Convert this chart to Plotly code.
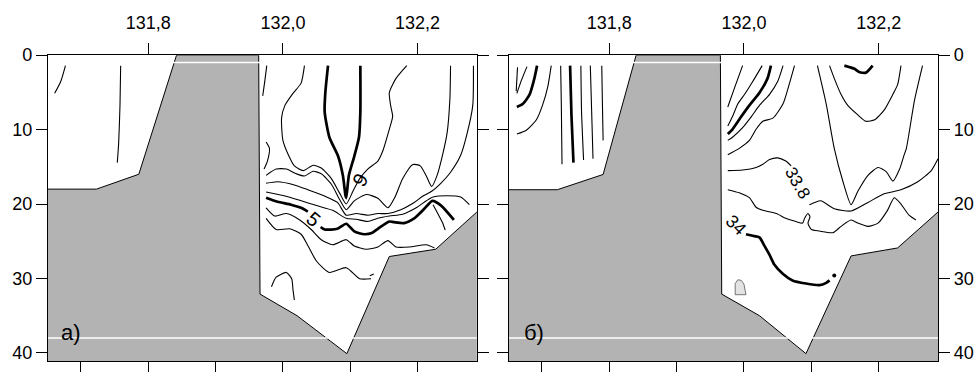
import plotly.graph_objects as go

# ---------------- axes / ticks ----------------
LON_RANGE = [131.651, 132.288]
DEPTH_RANGE = [41.15, 0.0]
bottom_ticks = [131.7, 131.8, 131.9, 132.0, 132.1, 132.2]
top_ticks = [131.8, 132.0, 132.2]
top_labels = ["131,8", "132,0", "132,2"]
depth_ticks = [0, 10, 20, 30, 40]
depth_labels = ["0", "10", "20", "30", "40"]
artifact_depths = [1.0, 38.0]

# ---------------- bathymetry (lon, depth) ----------------
bathy_lon_a = [131.640, 131.723, 131.786, 131.842, 131.964, 131.966, 132.021, 132.095, 132.158, 132.227, 132.300]
bathy_dep_a = [18.0, 18.0, 16.0, 0.0, 0.0, 32.1, 35.0, 40.1, 27.05, 26.07, 20.1]
bathy_lon_b = [131.640, 131.723, 131.791, 131.840, 131.965, 131.967, 132.023, 132.092, 132.159, 132.228, 132.300]
bathy_dep_b = [18.08, 18.08, 16.03, 0.0, 0.0, 32.1, 35.0, 40.1, 26.97, 25.9, 20.1]

# ---------------- panel a) contours ----------------
a1_lon = [131.677, 131.670, 131.661]
a1_dep = [1.41, 3.55, 5.13]
a2_lon = [131.759, 131.758, 131.756, 131.754]
a2_dep = [1.41, 6.75, 11.88, 14.44]
a3_lon = [131.976, 131.973, 131.970]
a3_dep = [1.41, 3.55, 5.47]
a4_lon = [131.975, 131.980, 131.977, 131.972]
a4_dep = [11.67, 12.52, 14.23, 15.3]
a9_lon = [132.067, 132.063, 132.062, 132.069, 132.082, 132.089, 132.093, 132.094,
          132.098, 132.106, 132.113, 132.115, 132.115]
a9_dep = [1.41, 5.04, 7.61, 11.03, 13.59, 16.15, 18.9, 19.2, 16.15, 13.59, 11.03, 7.61, 1.41]
aw_lon = [132.032, 132.027, 132.015, 132.003, 131.998, 132.000, 132.008, 132.017, 132.030, 132.045,
          132.057, 132.072, 132.084, 132.094, 132.104, 132.114, 132.126, 132.141, 132.148, 132.158,
          132.163, 132.160, 132.158, 132.168, 132.184]
aw_dep = [1.41, 3.76, 5.13, 6.75, 8.46, 11.45, 13.38, 14.87, 15.51, 14.79,
          15.17, 16.58, 18.5, 20.0, 18.29, 16.58, 15.3, 14.23, 12.95, 9.96,
          8.25, 6.75, 5.04, 3.12, 1.41]
ar2_lon = [131.975, 131.990, 132.005, 132.020, 132.032, 132.045, 132.057, 132.072, 132.084, 132.094,
           132.106, 132.124, 132.141, 132.156, 132.166, 132.178, 132.193, 132.204, 132.213, 132.221,
           132.229, 132.237, 132.244, 132.248, 132.249]
ar2_dep = [16.15, 15.3, 15.3, 15.94, 16.24, 15.6, 15.94, 17.35, 19.36, 20.77,
           19.57, 18.72, 19.23, 20.51, 19.15, 16.58, 14.7, 14.87, 16.24, 17.65,
           16.15, 13.46, 10.38, 5.9, 1.41]
ar3_lon = [131.975, 131.992, 132.017, 132.037, 132.062, 132.081, 132.094, 132.109, 132.126, 132.141,
           132.156, 132.175, 132.195, 132.208, 132.221, 132.233, 132.249, 132.264, 132.274, 132.282, 132.283]
ar3_dep = [17.22, 17.01, 17.44, 18.08, 18.93, 19.79, 21.5, 21.28, 21.5, 21.28,
           21.28, 20.77, 19.79, 18.93, 18.29, 17.35, 15.73, 13.46, 10.38, 6.75, 1.41]
ar4_lon = [131.975, 132.000, 132.025, 132.050, 132.074, 132.094, 132.109, 132.126, 132.141, 132.158,
           132.178, 132.198, 132.213, 132.223, 132.244, 132.264, 132.277]
ar4_dep = [18.38, 18.85, 19.49, 20.21, 20.85, 21.92, 22.05, 22.35, 21.92, 21.62,
           21.37, 20.51, 19.57, 19.06, 18.89, 19.06, 20.09]
ar4c_lon = [132.223, 132.230, 132.237, 132.241]
ar4c_dep = [20.09, 21.28, 22.48, 23.5]
a5l_lon = [131.975, 131.992, 132.012, 132.027, 132.037]
a5l_dep = [19.15, 19.7, 20.09, 20.51, 21.03]
a5r_lon = [132.056, 132.062, 132.081, 132.094, 132.106, 132.121, 132.133, 132.141, 132.158, 132.165,
           132.180, 132.195, 132.210, 132.222, 132.235, 132.254]
a5r_dep = [23.08, 23.42, 23.33, 22.65, 23.68, 24.06, 23.85, 23.33, 22.35, 22.44,
           22.56, 21.92, 20.64, 19.57, 20.21, 22.14]
ar6_lon = [131.975, 131.988, 132.005, 132.025, 132.042, 132.057, 132.074, 132.094, 132.106, 132.124,
           132.141, 132.156, 132.168, 132.188, 132.213, 132.225]
ar6_dep = [20.51, 21.62, 21.28, 22.14, 23.42, 24.79, 25.47, 24.79, 25.64, 26.07,
           25.77, 24.91, 25.77, 25.77, 25.47, 25.9]
ar7_lon = [131.975, 131.990, 132.010, 132.027, 132.037, 132.050, 132.069, 132.094, 132.114, 132.131]
ar7_dep = [21.92, 23.42, 23.33, 24.06, 25.56, 27.69, 29.19, 28.55, 30.04, 30.04]
aarc_lon = [131.983, 131.990, 132.005, 132.013, 132.015, 132.017]
aarc_dep = [31.11, 29.83, 29.19, 30.04, 31.54, 32.91]
atick_lon = [132.129, 132.135]
atick_dep = [29.62, 29.4]

# ---------------- panel б) contours ----------------
b1_lon = [131.664, 131.662]
b1_dep = [1.62, 4.83]
b2_lon = [131.678, 131.670, 131.663]
b2_dep = [1.54, 3.33, 5.13]
b3_lon = [131.693, 131.689, 131.682, 131.672, 131.663]
b3_dep = [1.41, 3.12, 5.26, 6.54, 6.97]
b4_lon = [131.714, 131.709, 131.701, 131.692, 131.677, 131.663]
b4_dep = [1.41, 4.19, 6.75, 8.68, 10.09, 10.6]
b5_lon = [131.728, 131.729, 131.730]
b5_dep = [1.41, 6.75, 14.66]
b6_lon = [131.742, 131.744, 131.747]
b6_dep = [1.41, 8.03, 14.44]
b7_lon = [131.758, 131.759, 131.762]
b7_dep = [1.41, 7.61, 14.1]
b8_lon = [131.772, 131.774, 131.776]
b8_dep = [1.41, 7.61, 13.93]
b9_lon = [131.789, 131.790, 131.791]
b9_dep = [1.41, 6.75, 11.45]
c1_lon = [131.998, 131.986, 131.976]
c1_dep = [1.41, 4.4, 6.97]
c2_lon = [132.027, 132.013, 132.001, 131.991, 131.983, 131.976]
c2_dep = [1.41, 3.55, 5.26, 6.54, 8.25, 9.53]
c3_lon = [132.040, 132.035, 132.023, 132.008, 131.996, 131.983, 131.976]
c3_dep = [1.41, 3.12, 5.04, 6.75, 8.25, 9.96, 10.6]
c4_lon = [132.058, 132.050, 132.038, 132.023, 132.011, 131.998, 131.983, 131.976]
c4_dep = [1.41, 3.55, 5.26, 6.75, 8.25, 9.74, 11.03, 11.45]
c5_lon = [132.075, 132.067, 132.058, 132.043, 132.028, 132.018, 132.008, 131.993, 131.976]
c5_dep = [1.41, 3.97, 6.54, 8.46, 8.89, 9.96, 11.45, 12.52, 13.38]
cv_lon = [132.109, 132.122, 132.134, 132.147, 132.159, 132.169, 132.184, 132.199, 132.211, 132.221,
          132.231, 132.237, 132.241, 132.253, 132.265]
cv_dep = [1.41, 6.54, 12.52, 17.01, 20.09, 18.29, 16.15, 15.09, 15.64, 16.92,
          15.3, 13.59, 12.52, 6.11, 1.41]
cu_lon = [132.127, 132.134, 132.144, 132.154, 132.169, 132.181, 132.194, 132.208, 132.221, 132.228, 132.233]
cu_dep = [1.41, 3.12, 5.26, 6.75, 8.03, 8.89, 8.68, 7.39, 5.26, 3.97, 1.41]
ctop_lon = [132.149, 132.164, 132.171, 132.181, 132.191]
ctop_dep = [1.41, 1.84, 2.26, 2.35, 1.41]
c338a_lon = [131.976, 131.998, 132.018, 132.028, 132.038, 132.050, 132.062, 132.070]
c338a_dep = [15.51, 15.43, 15.09, 14.66, 14.02, 13.8, 14.23, 14.87]
c338b_lon = [132.097, 132.105, 132.114, 132.134, 132.159, 132.184, 132.208, 132.233, 132.258, 132.278, 132.288]
c338b_dep = [20.09, 19.79, 19.57, 20.64, 20.94, 19.79, 18.63, 18.08, 17.01, 15.51, 13.93]
c2b_lon = [131.976, 131.993, 132.008, 132.018, 132.028, 132.048, 132.062, 132.077, 132.087, 132.090,
           132.095, 132.098, 132.095, 132.100, 132.112, 132.132, 132.144, 132.159, 132.169, 132.184,
           132.199, 132.213, 132.223, 132.233, 132.245, 132.255]
c2b_dep = [18.08, 18.5, 19.15, 20.43, 20.85, 21.28, 21.92, 22.35, 22.56, 21.92,
           21.28, 21.71, 22.56, 23.42, 23.63, 23.85, 23.0, 22.14, 22.56, 23.0,
           22.56, 20.85, 19.15, 20.0, 21.5, 22.14]
c34_lon = [132.003, 132.013, 132.023, 132.030, 132.038, 132.045, 132.058, 132.072, 132.092, 132.112, 132.122, 132.127]
c34_dep = [24.06, 24.27, 24.49, 25.56, 26.84, 28.12, 29.4, 30.26, 30.68, 30.9, 30.6, 30.26]
cdot_lon = [132.134]
cdot_dep = [29.6]
blob_lon = [131.987, 131.987, 131.991, 131.996, 132.000, 132.003, 131.987]
blob_dep = [32.18, 30.68, 30.17, 30.26, 30.77, 32.18, 32.18]

THIN, THICK = 1.1, 2.7
GRAY = "#b3b3b3"
FONT = "Arial, Liberation Sans, sans-serif"

panel_a_lines = [
    (a1_lon, a1_dep, THIN), (a2_lon, a2_dep, THIN), (a3_lon, a3_dep, THIN), (a4_lon, a4_dep, THIN),
    (a9_lon, a9_dep, THICK), (aw_lon, aw_dep, THIN), (ar2_lon, ar2_dep, THIN), (ar3_lon, ar3_dep, THIN),
    (ar4_lon, ar4_dep, THIN), (ar4c_lon, ar4c_dep, THIN), (a5l_lon, a5l_dep, THICK), (a5r_lon, a5r_dep, THICK),
    (ar6_lon, ar6_dep, THIN), (ar7_lon, ar7_dep, THIN), (aarc_lon, aarc_dep, THIN), (atick_lon, atick_dep, THIN),
]
panel_b_lines = [
    (b1_lon, b1_dep, THIN), (b2_lon, b2_dep, THIN), (b3_lon, b3_dep, THICK), (b4_lon, b4_dep, THIN),
    (b5_lon, b5_dep, THIN), (b6_lon, b6_dep, THICK), (b7_lon, b7_dep, THIN), (b8_lon, b8_dep, THIN),
    (b9_lon, b9_dep, THIN), (c1_lon, c1_dep, THIN), (c2_lon, c2_dep, THIN), (c3_lon, c3_dep, THICK),
    (c4_lon, c4_dep, THIN), (c5_lon, c5_dep, THIN), (cv_lon, cv_dep, THIN), (cu_lon, cu_dep, THIN),
    (ctop_lon, ctop_dep, THICK), (c338a_lon, c338a_dep, THIN), (c338b_lon, c338b_dep, THIN),
    (c2b_lon, c2b_dep, THIN), (c34_lon, c34_dep, THICK),
]

fig = go.Figure()


def add_panel(xa, ya, blon, bdep, lines):
    # gray bathymetry fill
    fig.add_trace(go.Scatter(
        x=blon + [blon[-1], blon[0]], y=bdep + [42.5, 42.5], fill="toself", fillcolor=GRAY,
        mode="lines", line=dict(width=0, color=GRAY), xaxis=xa, yaxis=ya,
        hoverinfo="skip", showlegend=False))
    # bottom outline
    fig.add_trace(go.Scatter(x=blon, y=bdep, mode="lines", line=dict(color="black", width=1),
                             xaxis=xa, yaxis=ya, hoverinfo="skip", showlegend=False))
    # white artifact lines
    for d in artifact_depths:
        fig.add_trace(go.Scatter(x=[blon[0], blon[-1]], y=[d, d], mode="lines",
                                 line=dict(color="white", width=1.5), xaxis=xa, yaxis=ya,
                                 hoverinfo="skip", showlegend=False))
    for lon, dep, w in lines:
        fig.add_trace(go.Scatter(x=lon, y=dep, mode="lines",
                                 line=dict(color="black", width=w, shape="spline", smoothing=0.6),
                                 xaxis=xa, yaxis=ya, hoverinfo="skip", showlegend=False))


add_panel("x", "y", bathy_lon_a, bathy_dep_a, panel_a_lines)
add_panel("x3", "y3", bathy_lon_b, bathy_dep_b, panel_b_lines)

# extra marks panel b
fig.add_trace(go.Scatter(x=blob_lon, y=blob_dep, fill="toself", fillcolor="#e3e3e3", mode="lines",
                         line=dict(color="#555555", width=0.8), xaxis="x3", yaxis="y3",
                         hoverinfo="skip", showlegend=False))
fig.add_trace(go.Scatter(x=cdot_lon, y=cdot_dep, mode="markers", marker=dict(color="black", size=4),
                         xaxis="x3", yaxis="y3", hoverinfo="skip", showlegend=False))

W, H = 974, 372
xa_dom = [48 / W, 477.3 / W]
xb_dom = [509.3 / W, 939 / W]
y_dom = [1 - 368.3 / H, 1 - 47.3 / H]

tickfont = dict(family=FONT, size=18, color="black")
common_x = dict(range=LON_RANGE, showline=True, linecolor="black", linewidth=1, ticks="outside",
                ticklen=11, tickcolor="black", tickwidth=1, showgrid=False, zeroline=False)
common_y = dict(range=DEPTH_RANGE, showline=True, linecolor="black", linewidth=1, ticks="outside",
                ticklen=11, tickcolor="black", tickwidth=1, showgrid=False, zeroline=False,
                tickvals=depth_ticks, ticktext=depth_labels, tickfont=tickfont, mirror="ticks")

fig.update_layout(
    width=W, height=H, margin=dict(l=0, r=0, t=0, b=0),
    paper_bgcolor="white", plot_bgcolor="white", showlegend=False,
    xaxis=dict(domain=xa_dom, anchor="y", tickvals=bottom_ticks, showticklabels=False, **common_x),
    xaxis2=dict(domain=xa_dom, anchor="y", overlaying="x", side="top", tickvals=top_ticks,
                ticktext=top_labels, tickfont=tickfont, ticklabelstandoff=7, **common_x),
    xaxis3=dict(domain=xb_dom, anchor="y3", tickvals=bottom_ticks, showticklabels=False, **common_x),
    xaxis4=dict(domain=xb_dom, anchor="y3", overlaying="x3", side="top", tickvals=top_ticks,
                ticktext=top_labels, tickfont=tickfont, ticklabelstandoff=7, **common_x),
    yaxis=dict(domain=y_dom, anchor="x", side="left", **common_y),
    yaxis3=dict(domain=y_dom, anchor="x3", side="right", **common_y),
)

# invisible traces to bind the top axes
fig.add_trace(go.Scatter(x=[], y=[], xaxis="x2", yaxis="y", showlegend=False))
fig.add_trace(go.Scatter(x=[], y=[], xaxis="x4", yaxis="y3", showlegend=False))

ann_font = dict(family=FONT, color="black")
annotations = [
    dict(x=131.667, y=37.3, xref="x", yref="y", text="a)", showarrow=False, xanchor="left",
         font=dict(size=22, **ann_font)),
    dict(x=131.671, y=37.3, xref="x3", yref="y3", text="б)", showarrow=False, xanchor="left",
         font=dict(size=22, **ann_font)),
    dict(x=132.115, y=16.8, xref="x", yref="y", text="9", showarrow=False, textangle=-60,
         font=dict(size=20, **ann_font)),
    dict(x=132.045, y=22.0, xref="x", yref="y", text="5", showarrow=False, textangle=40,
         font=dict(size=20, **ann_font)),
    dict(x=132.080, y=17.2, xref="x3", yref="y3", text="33.8", showarrow=False, textangle=60,
         font=dict(size=17, **ann_font)),
    dict(x=131.988, y=22.8, xref="x3", yref="y3", text="34", showarrow=False, textangle=45,
         font=dict(size=18, **ann_font)),
]
fig.update_layout(annotations=annotations)

fig.write_html("out.html")
